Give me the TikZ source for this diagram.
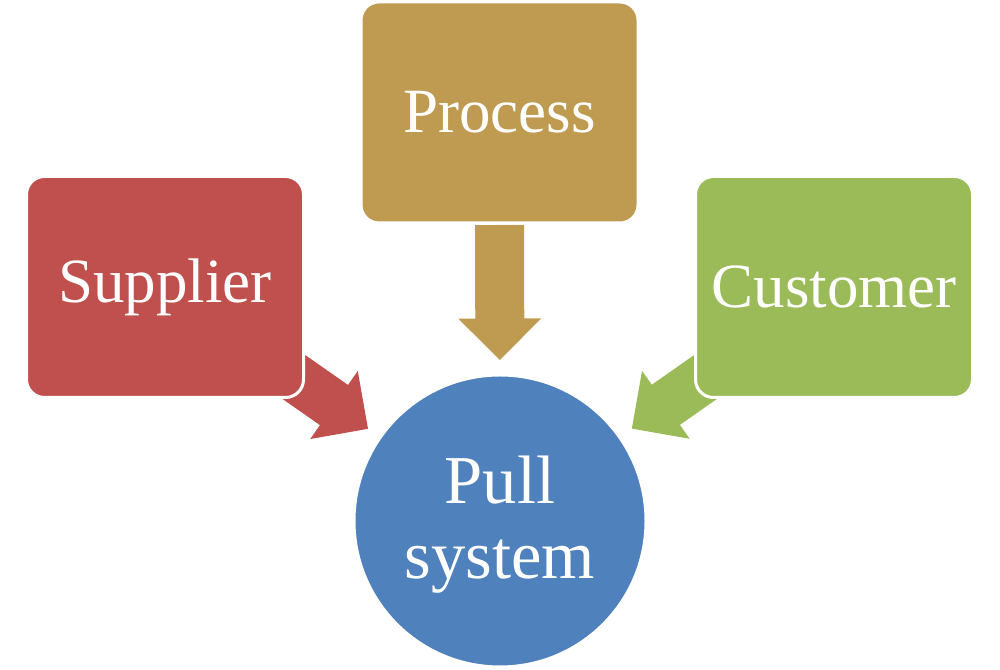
\documentclass[tikz,border=0pt]{standalone}
\usepackage{fontspec}
\setmainfont{Liberation Serif}
\usetikzlibrary{calc}
\pgfdeclarelayer{bg}
\pgfsetlayers{bg,main}
\definecolor{cred}{HTML}{C0504D}
\definecolor{ctan}{HTML}{BF9B52}
\definecolor{cgreen}{HTML}{9BBB59}
\definecolor{cblue}{HTML}{4F81BD}
\begin{document}
\begin{tikzpicture}[x=0.75pt,y=0.75pt,
  bigtext/.style={text=white, font=\fontsize{47.25}{56.25}\selectfont},
  box/.style={bigtext, rectangle, rounded corners=13.5pt, draw=white, line width=2.25pt,
    minimum width=207.75pt, minimum height=165.75pt, inner sep=0pt},
  hub/.style={circle, draw=white, line width=2.25pt, minimum size=219pt,
    inner sep=0pt, fill=cblue},
  hubtext/.style={text=white, font=\fontsize{51.4}{56.25}\selectfont, align=center, inner sep=0pt}]
\useasboundingbox (0,0) rectangle (1000,670);
\node[box, fill=cred] (supplier) at (165,383) {Supplier};
\node[box, fill=ctan] (process) at (499.5,557.5) {Process};
\node[box, fill=cgreen] (customer) at (834,383) {Customer};
\node[hub] (pull) at (500,149) {};
\node[hubtext] (pulltext) at ($(pull.center)+(0,-3.5)$) {Pull\\system};
\begin{pgfonlayer}{bg}
\foreach \src/\col in {supplier/cred, process/ctan, customer/cgreen} {
  \fill[\col] let \p1=($(\src.center)-(pull.center)$), \n1={atan2(\y1,\x1)} in
    ($(pull.center)+(\n1:161)$)
    -- ($(pull.center)+(\n1:202.5)+(\n1+90:41.5)$)
    -- ($(pull.center)+(\n1:202.5)+(\n1+90:24.5)$)
    -- ($(pull.center)+(\n1:296)+(\n1+90:24.5)$)
    -- ($(pull.center)+(\n1:296)+(\n1-90:24.5)$)
    -- ($(pull.center)+(\n1:202.5)+(\n1-90:24.5)$)
    -- ($(pull.center)+(\n1:202.5)+(\n1-90:41.5)$)
    -- cycle;
}
\end{pgfonlayer}
\end{tikzpicture}
\end{document}
